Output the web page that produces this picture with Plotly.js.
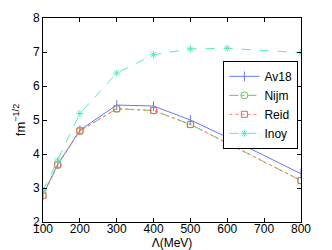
<!DOCTYPE html>
<html><head><meta charset="utf-8">
<script src="https://cdn.plot.ly/plotly-3.0.1.min.js"></script>
<style>body{margin:0;background:#fff}#p{width:332px;height:250px}</style>
</head><body><div id="p"></div>
<script>
const lambda = [100, 140, 200, 300, 400, 500, 600, 800];
const av18 = [2.80, 3.70, 4.70, 5.44, 5.41, 5.00, 4.49, 3.42];
const nijm = [2.78, 3.68, 4.68, 5.33, 5.28, 4.87, 4.32, 3.22];
const reid = [2.78, 3.68, 4.68, 5.33, 5.28, 4.87, 4.32, 3.22];
const inoy = [2.92, 3.82, 5.19, 6.38, 6.92, 7.09, 7.11, 6.98];
const xTicks = [100, 200, 300, 400, 500, 600, 700, 800];
const yTicks = [2, 3, 4, 5, 6, 7, 8];

const FONT = 'Liberation Sans, Arial, sans-serif';
const traces = [
  {x: lambda, y: av18, name: 'Av18', mode: 'lines+markers',
   line: {color: '#6677ff', width: 1, dash: 'solid'},
   marker: {symbol: 'line-ns-open', size: 7, color: '#6677ff', line: {color: '#6677ff', width: 1}}},
  {x: lambda, y: nijm, name: 'Nijm', mode: 'lines+markers',
   line: {color: '#66cc55', width: 1, dash: 'dashdot'},
   marker: {symbol: 'circle-open', size: 7, color: '#66cc55', line: {color: '#66cc55', width: 1}}},
  {x: lambda, y: reid, name: 'Reid', mode: 'lines+markers',
   line: {color: '#ff7777', width: 1, dash: 'dot'},
   marker: {symbol: 'square-open', size: 6, color: '#ee6655', line: {color: '#ee6655', width: 1}}},
  {x: lambda, y: inoy, name: 'Inoy', mode: 'lines+markers',
   line: {color: '#55eebb', width: 1, dash: 'dash'},
   marker: {symbol: 'asterisk-open', size: 6, color: '#55eebb', line: {color: '#55eebb', width: 1}}}
];

const axisCommon = {
  showgrid: false, zeroline: false, showline: true, mirror: 'ticks',
  linecolor: '#000', linewidth: 1, ticks: 'inside', ticklen: 4, tickcolor: '#000',
  tickfont: {family: FONT, size: 12, color: '#000'}
};

const layout = {
  width: 332, height: 250,
  margin: {l: 43, r: 31, t: 18, b: 28},
  paper_bgcolor: '#fff', plot_bgcolor: '#fff',
  showlegend: true,
  legend: {x: 0.99, xanchor: 'right', y: 0.79, yanchor: 'top',
           bgcolor: '#fff', bordercolor: '#000', borderwidth: 1,
           font: {family: FONT, size: 12, color: '#000'},
           tracegroupgap: 0, itemwidth: 30},
  xaxis: Object.assign({}, axisCommon, {range: [100, 800], tickvals: xTicks, ticklabelstandoff: -4,
    title: {text: 'Λ(MeV)', standoff: 0, font: {family: FONT, size: 12, color: '#000'}}}),
  yaxis: Object.assign({}, axisCommon, {range: [2, 8], tickvals: yTicks,
    title: {text: 'fm<sup>−1/2</sup>', standoff: 4, font: {family: FONT, size: 13, color: '#000'}}})
};

Plotly.newPlot('p', traces, layout, {displayModeBar: false, staticPlot: true});
</script></body></html>
